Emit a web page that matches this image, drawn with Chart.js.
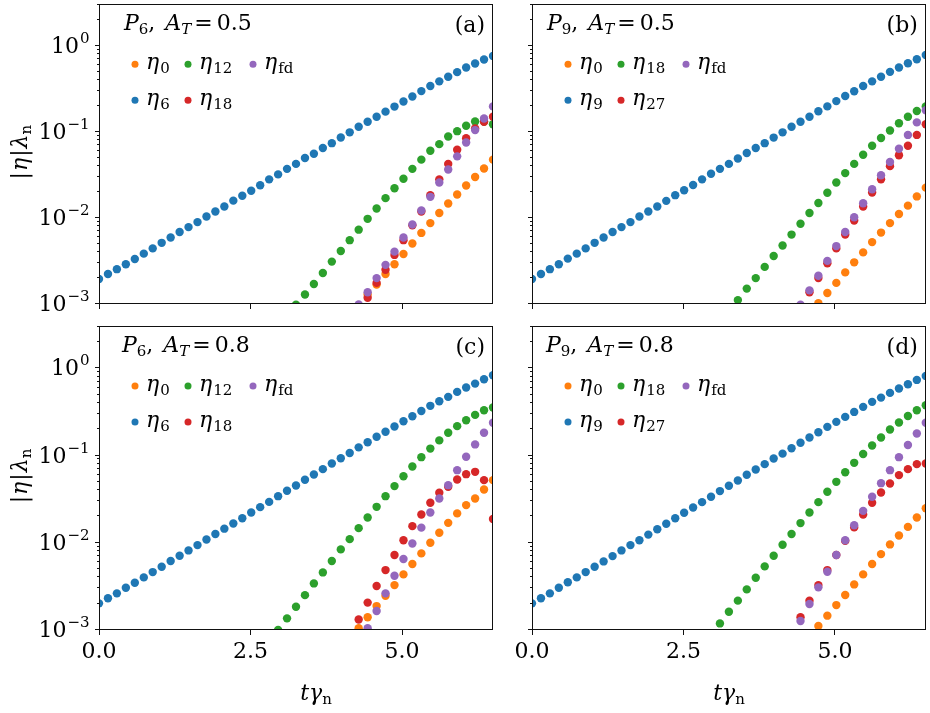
<!DOCTYPE html>
<html>
<head>
<meta charset="utf-8">
<script src="https://cdn.jsdelivr.net/npm/chart.js@4.4.0/dist/chart.umd.min.js"></script>
<style>
  body { margin: 0; background: #fff; }
  #fig { position: relative; width: 930px; height: 713px; overflow: hidden; }
  .panel { position: absolute; }
</style>
</head>
<body>
<div id="fig">
  <div class="panel" style="left:0;top:0"><canvas id="pa" width="505" height="318"></canvas></div>
  <div class="panel" style="left:505px;top:0"><canvas id="pb" width="425" height="318"></canvas></div>
  <div class="panel" style="left:0;top:318px"><canvas id="pc" width="505" height="395"></canvas></div>
  <div class="panel" style="left:505px;top:318px"><canvas id="pd" width="425" height="395"></canvas></div>
</div>
<script>
// time grid t*gamma_n (45 samples, shared by all panels)
const T = [0, 0.148, 0.295, 0.443, 0.591, 0.739, 0.886, 1.034, 1.182, 1.330, 1.477, 1.625, 1.773, 1.920, 2.068,
  2.216, 2.364, 2.511, 2.659, 2.807, 2.955, 3.102, 3.250, 3.398, 3.545, 3.693, 3.841, 3.989, 4.136, 4.284,
  4.432, 4.580, 4.727, 4.875, 5.023, 5.170, 5.318, 5.466, 5.614, 5.761, 5.909, 6.057, 6.205, 6.352, 6.500];

// (a) P6, A_T = 0.5
const A_ETA6 = [0.00195, 0.00223, 0.00254, 0.00290, 0.00334, 0.00385, 0.00443, 0.00514, 0.00592, 0.00687, 0.00783, 0.00895,
  0.0104, 0.0119, 0.0136, 0.0159, 0.0181, 0.0207, 0.0240, 0.0281, 0.0321, 0.0372, 0.0425, 0.0498, 0.0558, 0.0649, 0.0740,
  0.0861, 0.0989, 0.115, 0.131, 0.150, 0.172, 0.197, 0.226, 0.258, 0.298, 0.342, 0.387, 0.438, 0.495, 0.561, 0.624, 0.693, 0.762];
const A_ETA12 = [0.00098, 0.00129, 0.00171, 0.00229, 0.00311, 0.00413, 0.00552, 0.00731, 0.00977, 0.0129, 0.0170, 0.0221,
  0.0286, 0.0372, 0.0476, 0.0604, 0.0721, 0.0883, 0.102, 0.118, 0.132, 0.132, 0.123];
const A_ETA18 = [0.00118, 0.00176, 0.00250, 0.00372, 0.00552, 0.00820, 0.0119, 0.0184, 0.0281, 0.0425, 0.0621, 0.0845, 0.110, 0.131, 0.150];
const A_ETAFD = [0.00099, 0.00137, 0.00200, 0.00285, 0.00406, 0.00592, 0.00841, 0.0122, 0.0176, 0.0258, 0.0366, 0.0520, 0.0753, 0.105, 0.143, 0.198];
const A_ETA0 = [0.00129, 0.00168, 0.00223, 0.00290, 0.00381, 0.00505, 0.00670, 0.00871, 0.0114, 0.0147, 0.0187, 0.0238, 0.0299, 0.0376, 0.0476];
const A_FROM = { eta0: 30, mid: 22, high: 30, fd: 29 };

// (b) P9, A_T = 0.5
const B_ETA9 = [0.00195, 0.00223, 0.00254, 0.00290, 0.00337, 0.00385, 0.00443, 0.00514, 0.00592, 0.00687, 0.00783, 0.00895,
  0.0104, 0.0119, 0.0136, 0.0158, 0.0184, 0.0210, 0.0242, 0.0281, 0.0327, 0.0372, 0.0425, 0.0490, 0.0569, 0.0649, 0.0740,
  0.0859, 0.0989, 0.115, 0.131, 0.150, 0.174, 0.198, 0.228, 0.261, 0.297, 0.342, 0.387, 0.438, 0.499, 0.560, 0.628, 0.698, 0.782];
const B_ETA18 = [0.00111, 0.00151, 0.00200, 0.00270, 0.00361, 0.00479, 0.00641, 0.00857, 0.0114, 0.0149, 0.0196, 0.0258,
  0.0332, 0.0425, 0.0543, 0.0690, 0.0851, 0.104, 0.126, 0.150, 0.175, 0.198];
const B_ETA27 = [0.00137, 0.00200, 0.00298, 0.00443, 0.00641, 0.00935, 0.0136, 0.0198, 0.0281, 0.0400, 0.0535, 0.0690, 0.0923, 0.123];
const B_ETAFD = [0.00098, 0.00144, 0.00213, 0.00317, 0.00471, 0.00687, 0.0102, 0.0148, 0.0216, 0.0313, 0.0448, 0.0637, 0.0923, 0.129, 0.179];
const B_ETA0 = [0.00102, 0.00134, 0.00176, 0.00233, 0.00305, 0.00398, 0.00524, 0.00676, 0.00871, 0.0111, 0.0139, 0.0178, 0.0225];
const B_FROM = { eta0: 32, mid: 23, high: 31, fd: 30 };

// (c) P6, A_T = 0.8
const C_ETA6 = [0.00202, 0.00231, 0.00263, 0.00305, 0.00348, 0.00401, 0.00461, 0.00531, 0.00617, 0.00710, 0.00817, 0.00940,
  0.0109, 0.0126, 0.0145, 0.0166, 0.0191, 0.0222, 0.0256, 0.0294, 0.0342, 0.0394, 0.0453, 0.0527, 0.0605, 0.0698, 0.0809,
  0.0931, 0.107, 0.124, 0.142, 0.164, 0.187, 0.215, 0.247, 0.282, 0.324, 0.371, 0.419, 0.470, 0.536, 0.601, 0.667, 0.748, 0.832];
const C_ETA12 = [0.00100, 0.00136, 0.00185, 0.00251, 0.00342, 0.00457, 0.00617, 0.00839, 0.0110, 0.0147, 0.0195, 0.0258,
  0.0342, 0.0446, 0.0579, 0.0748, 0.0957, 0.120, 0.149, 0.182, 0.217, 0.254, 0.292, 0.330, 0.355];
const C_ETA18 = [0.00132, 0.00206, 0.00319, 0.00486, 0.00723, 0.0107, 0.0155, 0.0211, 0.0287, 0.0374, 0.0438, 0.0531, 0.0611, 0.0650, 0.0522, 0.0187];
const C_ETAFD = [0.00105, 0.00165, 0.00263, 0.00419, 0.00650, 0.00982, 0.0149, 0.0222, 0.0322, 0.0457, 0.0679, 0.0966, 0.134, 0.182, 0.237];
const C_ETA0 = [0.00105, 0.00140, 0.00188, 0.00247, 0.00327, 0.00434, 0.00570, 0.00755, 0.0100, 0.0130, 0.0169, 0.0217, 0.0270, 0.0322, 0.0408, 0.0522];
const C_FROM = { eta0: 29, mid: 20, high: 29, fd: 30 };

// (d) P9, A_T = 0.8
const D_ETA9 = [0.00202, 0.00231, 0.00263, 0.00305, 0.00352, 0.00401, 0.00461, 0.00531, 0.00611, 0.00703, 0.00817, 0.00940,
  0.0107, 0.0124, 0.0143, 0.0165, 0.0191, 0.0221, 0.0254, 0.0292, 0.0337, 0.0391, 0.0450, 0.0518, 0.0601, 0.0692, 0.0796,
  0.0925, 0.105, 0.121, 0.140, 0.161, 0.185, 0.213, 0.243, 0.277, 0.316, 0.361, 0.412, 0.461, 0.522, 0.585, 0.656, 0.735, 0.817];
const D_ETA18 = [0.00119, 0.00162, 0.00217, 0.00292, 0.00397, 0.00536, 0.00710, 0.00948, 0.0126, 0.0168, 0.0222, 0.0292,
  0.0384, 0.0499, 0.0644, 0.0824, 0.104, 0.130, 0.161, 0.199, 0.239, 0.284, 0.330, 0.377];
const D_ETA27 = [0.00140, 0.00217, 0.00327, 0.00486, 0.00723, 0.0105, 0.0150, 0.0211, 0.0287, 0.0377, 0.0478, 0.0596, 0.0698, 0.0796, 0.0809];
const D_ETAFD = [0.00127, 0.00199, 0.00308, 0.00466, 0.00723, 0.0107, 0.0159, 0.0232, 0.0337, 0.0482, 0.0679, 0.0957, 0.132, 0.179, 0.237];
const D_ETA0 = [0.00111, 0.00146, 0.00193, 0.00252, 0.00333, 0.00434, 0.00570, 0.00741, 0.00957, 0.0121, 0.0152, 0.0195, 0.0249];
const D_FROM = { eta0: 32, mid: 21, high: 30, fd: 30 };

// axis ticks
const X_TICK_STEP = 2.5;
const Y_DECADES = [0.001, 0.01, 0.1, 1];
const Y_MINOR_STEPS = [2, 3, 4, 5, 6, 7, 8, 9];

const COLORS = { eta0: "#ff7f0e", low: "#1f77b4", mid: "#2ca02c", high: "#d62728", fd: "#9467bd" };
const SERIF = '"DejaVu Serif", "Liberation Serif", serif';
const FS = 22; // main font size
const FS_SMALL = 15; // sub/superscripts

// text runs (mathtext-like); g = extra gap before the run
const R = (t, g) => ({ t, s: FS, g });
const I = (t, g) => ({ t, s: FS, i: true, g });
const SUB = (t, i, g) => ({ t, s: FS_SMALL, dy: 4, i, g });
const SUP = (t) => ({ t, s: FS_SMALL, dy: -10, g: 1 });

function drawRuns(ctx, runs, x, y, align) {
  let w = 0;
  runs.forEach((r) => {
    ctx.font = `${r.i ? "italic " : ""}${r.s}px ${SERIF}`;
    r.w = ctx.measureText(r.t).width;
    w += r.w + (r.g || 0);
  });
  let cx = align === "right" ? x - w : align === "center" ? x - w / 2 : x;
  runs.forEach((r) => {
    ctx.font = `${r.i ? "italic " : ""}${r.s}px ${SERIF}`;
    cx += r.g || 0;
    ctx.fillText(r.t, cx, y + (r.dy || 0));
    cx += r.w;
  });
}

const PANELS = [
  { id: "pa", w: 505, h: 318, area: { left: 99, top: 0, right: 493, bottom: 304 },
    p: "6", at: "0.5", tag: "(a)", lowSub: "6", midSub: "12", highSub: "18", titleDx: 25,
    showX: false, showY: true, xLabelX: 0,
    low: A_ETA6, mid: A_ETA12, high: A_ETA18, fd: A_ETAFD, eta0: A_ETA0, from: A_FROM },
  { id: "pb", w: 425, h: 318, area: { left: 27, top: 0, right: 422, bottom: 304 },
    p: "9", at: "0.5", tag: "(b)", lowSub: "9", midSub: "18", highSub: "27", titleDx: 15,
    showX: false, showY: false, xLabelX: 0,
    low: B_ETA9, mid: B_ETA18, high: B_ETA27, fd: B_ETAFD, eta0: B_ETA0, from: B_FROM },
  { id: "pc", w: 505, h: 395, area: { left: 99, top: 8, right: 493, bottom: 312 },
    p: "6", at: "0.8", tag: "(c)", lowSub: "6", midSub: "12", highSub: "18", titleDx: 23,
    showX: true, showY: true, xLabelX: 316,
    low: C_ETA6, mid: C_ETA12, high: C_ETA18, fd: C_ETAFD, eta0: C_ETA0, from: C_FROM },
  { id: "pd", w: 425, h: 395, area: { left: 27, top: 8, right: 422, bottom: 312 },
    p: "9", at: "0.8", tag: "(d)", lowSub: "9", midSub: "18", highSub: "27", titleDx: 14,
    showX: true, showY: false, xLabelX: 224,
    low: D_ETA9, mid: D_ETA18, high: D_ETA27, fd: D_ETAFD, eta0: D_ETA0, from: D_FROM },
];

function points(values, from) {
  return values.map((v, k) => ({ x: T[from + k], y: v }));
}

function dataset(label, values, from, color, order) {
  return {
    label,
    data: points(values, from),
    backgroundColor: color,
    pointRadius: 4.2,
    pointBorderWidth: 0,
    showLine: false,
    clip: 0,
    order, // lower order is drawn on top
  };
}

// decorations: spines, log ticks, legend, titles, axis labels
const decor = {
  id: "decor",
  afterDraw(chart, args, opts) {
    const P = opts.panel;
    const ctx = chart.ctx;
    const a = chart.chartArea;
    const y = chart.scales.y;
    ctx.save();
    ctx.fillStyle = "#000";
    ctx.strokeStyle = "#111";
    ctx.lineWidth = 1;
    ctx.textBaseline = "alphabetic";

    // spines
    const L = Math.round(a.left) + 0.5, Rt = Math.round(a.right) - 0.5;
    const Tp = Math.round(a.top) + 0.5, B = Math.round(a.bottom) - 0.5;
    ctx.strokeRect(L, Tp, Rt - L, B - Tp);

    // y ticks (major + minor) and labels
    Y_DECADES.forEach((d) => {
      const py = Math.round(y.getPixelForValue(d)) - 0.5;
      ctx.beginPath();
      ctx.moveTo(L, py);
      ctx.lineTo(L - 4.5, py);
      ctx.stroke();
      if (P.showY) {
        const e = Math.round(Math.log10(d));
        drawRuns(ctx, [R("10"), SUP(e < 0 ? "\u2212" + (-e) : String(e))], L - 10, py + 7, "right");
      }
      Y_MINOR_STEPS.forEach((m) => {
        const v = d * m;
        if (v > y.max) return;
        const pm = Math.round(y.getPixelForValue(v)) - 0.5;
        ctx.beginPath();
        ctx.moveTo(L, pm);
        ctx.lineTo(L - 2.5, pm);
        ctx.stroke();
      });
    });

    // title and panel tag
    drawRuns(ctx, [I("P"), SUB(P.p), R(","), I("A", 10), SUB("T", true), R("=", 3), R(P.at, 4)],
      a.left + P.titleDx, a.top + 26, "left");
    drawRuns(ctx, [R(P.tag)], a.right - 8, a.top + 28, "right");

    // legend (3 columns, column-major like matplotlib)
    const entries = [
      { c: COLORS.eta0, sub: "0" }, { c: COLORS.low, sub: P.lowSub },
      { c: COLORS.mid, sub: P.midSub }, { c: COLORS.high, sub: P.highSub },
      { c: COLORS.fd, sub: "fd" },
    ];
    const colDx = [36, 89, 154], rowDy = [60, 96];
    entries.forEach((en, k) => {
      const mx = a.left + colDx[Math.floor(k / 2)];
      const my = a.top + rowDy[k % 2];
      ctx.fillStyle = en.c;
      ctx.beginPath();
      ctx.arc(mx, my, 3.5, 0, Math.PI * 2);
      ctx.fill();
      ctx.fillStyle = "#000";
      drawRuns(ctx, [I("\u03b7"), SUB(en.sub, false, 1)], mx + 11, my + 5, "left");
    });

    // y axis label
    if (P.showY) {
      ctx.save();
      ctx.translate(27, (a.top + a.bottom) / 2 - 2);
      ctx.rotate(-Math.PI / 2);
      drawRuns(ctx, [R("|"), I("\u03b7", 1), R("|", 1), I("\u03bb", 1), SUB("n")], 0, 0, "center");
      ctx.restore();
    }
    // x axis label
    if (P.showX) {
      drawRuns(ctx, [I("t"), I("\u03b3"), SUB("n")], P.xLabelX, 382, "center");
    }
    ctx.restore();
  },
};

PANELS.forEach((P) => {
  const a = P.area;
  new Chart(document.getElementById(P.id), {
    type: "scatter",
    data: {
      datasets: [
        dataset("eta_fd", P.fd, P.from.fd, COLORS.fd, 1),
        dataset("eta_high", P.high, P.from.high, COLORS.high, 2),
        dataset("eta_mid", P.mid, P.from.mid, COLORS.mid, 3),
        dataset("eta_0", P.eta0, P.from.eta0, COLORS.eta0, 4),
        dataset("eta_low", P.low, 0, COLORS.low, 5),
      ],
    },
    options: {
      responsive: false,
      animation: false,
      devicePixelRatio: 1,
      events: [],
      layout: { padding: { top: a.top, right: P.w - a.right, left: 0, bottom: 0 } },
      plugins: {
        legend: { display: false },
        tooltip: { enabled: false },
        decor: { panel: P },
      },
      scales: {
        x: {
          type: "linear",
          min: 0,
          max: 6.5,
          afterFit: (s) => { s.height = P.h - a.bottom; },
          border: { display: false },
          grid: { drawOnChartArea: false, drawTicks: true, tickLength: 5, color: "#111", lineWidth: 1 },
          ticks: {
            display: P.showX,
            stepSize: X_TICK_STEP,
            includeBounds: false,
            autoSkip: false,
            maxRotation: 0,
            padding: 4,
            color: "#000",
            font: { family: SERIF, size: FS },
            callback: (v) => Number(v).toFixed(1),
          },
        },
        y: {
          type: "logarithmic",
          min: 0.001,
          max: 3.05,
          afterFit: (s) => { s.width = a.left; },
          border: { display: false },
          grid: { display: false },
          ticks: { display: false },
        },
      },
    },
    plugins: [decor],
  });
});
</script>
</body>
</html>
